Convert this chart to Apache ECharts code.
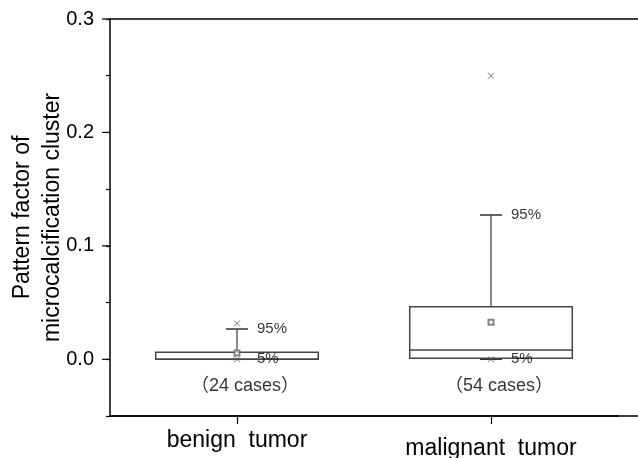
<!DOCTYPE html>
<html>
<head>
<meta charset="utf-8">
<script src="https://cdn.jsdelivr.net/npm/echarts@6/dist/echarts.min.js"></script>
<style>
html,body{margin:0;padding:0;background:#fff;}
#chart{width:638px;height:458px;}
</style>
</head>
<body>
<div id="chart"></div>
<script>
// ---- data ----
const categories = ['benign  tumor', 'malignant  tumor'];
const p5Vals     = [0.0, 0.0];
const q1Vals     = [0.0, 0.001];
const medianVals = [0.0, 0.0082];
const q3Vals     = [0.0062, 0.0464];
const p95Vals    = [0.0267, 0.1272];
const meanVals   = [0.0056, 0.0326];
const minVals    = [0.0, 0.0];
const maxVals    = [0.0317, 0.250];
const caseCounts = [24, 54];
const yMajorTicks = [0, 0.1, 0.2, 0.3];
const yMinorStep = 0.05;
const yMin = -0.05, yMax = 0.3;

const FONT = '"Liberation Sans", Arial, "Noto Sans CJK SC", sans-serif';

const boxData = categories.map((c, i) => [i, p5Vals[i], q1Vals[i], medianVals[i], q3Vals[i], p95Vals[i]]);

function isMajor(v) {
  return yMajorTicks.some(t => Math.abs(t - v) < 1e-9);
}

function renderBox(params, api) {
  const idx = api.value(0);
  const p5 = api.coord([idx, api.value(1)]);
  const q1 = api.coord([idx, api.value(2)]);
  const md = api.coord([idx, api.value(3)]);
  const q3 = api.coord([idx, api.value(4)]);
  const p95 = api.coord([idx, api.value(5)]);
  const cx = q1[0];
  const w = api.size([1, 0])[0] * 0.64;
  const cap = 11;
  const boxStroke = '#444';
  const whiskStroke = '#666';
  return {
    type: 'group',
    children: [
      { type: 'line', shape: { x1: cx, y1: q3[1], x2: cx, y2: p95[1] }, style: { stroke: whiskStroke, lineWidth: 1.5 } },
      { type: 'line', shape: { x1: cx - cap, y1: p95[1], x2: cx + cap, y2: p95[1] }, style: { stroke: '#333', lineWidth: 1.5 } },
      { type: 'line', shape: { x1: cx, y1: q1[1], x2: cx, y2: p5[1] }, style: { stroke: whiskStroke, lineWidth: 1.5 } },
      { type: 'line', shape: { x1: cx - cap, y1: p5[1], x2: cx + cap, y2: p5[1] }, style: { stroke: '#333', lineWidth: 1.5 } },
      { type: 'rect', shape: { x: cx - w / 2, y: q3[1], width: w, height: q1[1] - q3[1] }, style: { fill: '#fff', stroke: boxStroke, lineWidth: 1.5 } },
      { type: 'line', shape: { x1: cx - w / 2, y1: md[1], x2: cx + w / 2, y2: md[1] }, style: { stroke: boxStroke, lineWidth: 1.5 } }
    ]
  };
}

// major (longer) y ticks, placed through the y scale
function renderMajorTick(params, api) {
  const p = api.coord([0, api.value(1)]);
  const x0 = params.coordSys.x;
  return {
    type: 'line',
    shape: { x1: x0 - 8, y1: p[1], x2: x0, y2: p[1] },
    style: { stroke: '#000', lineWidth: 1.2 }
  };
}

const chart = echarts.init(document.getElementById('chart'));
chart.setOption({
  animation: false,
  backgroundColor: '#fff',
  grid: [
    { left: 110, right: 20, top: 19, bottom: 42, containLabel: false, outerBoundsMode: 'none' },
    { left: 110, right: -20, top: 19, bottom: 42, containLabel: false, outerBoundsMode: 'none' }
  ],
  xAxis: [
    {
      type: 'category', gridIndex: 0, data: categories, boundaryGap: true,
      axisLine: { show: true, onZero: false, lineStyle: { color: '#000', width: 1.5 } },
      axisTick: { show: true, alignWithLabel: true, interval: 0, length: 8, lineStyle: { color: '#000', width: 1.2 } },
      axisLabel: {
        interval: 0, hideOverlap: false,
        margin: 13, color: '#000', fontFamily: FONT, fontSize: 23,
        formatter: (v, i) => i === 1 ? '{b|' + v + '}' : '{a|' + v + '}',
        rich: {
          a: { fontSize: 23, fontFamily: FONT, color: '#000' },
          b: { fontSize: 23, fontFamily: FONT, color: '#000', padding: [8, 0, 0, 0] }
        }
      },
      splitLine: { show: false }
    },
    {
      type: 'value', gridIndex: 1, position: 'top', min: 0, max: 1,
      axisLine: { show: true, onZero: false, lineStyle: { color: '#000', width: 1.5 } },
      axisTick: { show: false }, axisLabel: { show: false }, splitLine: { show: false }
    },
    {
      type: 'value', gridIndex: 1, position: 'bottom', min: 0, max: 1,
      axisLine: { show: true, onZero: false, lineStyle: { color: '#000', width: 1.5 } },
      axisTick: { show: false }, axisLabel: { show: false }, splitLine: { show: false }
    }
  ],
  yAxis: [
    {
      type: 'value', gridIndex: 0, min: yMin, max: yMax, interval: yMinorStep, position: 'left',
      name: 'Pattern factor of\nmicrocalcification cluster',
      nameLocation: 'middle', nameRotate: 90, nameGap: 42, nameMoveOverlap: false,
      nameTextStyle: { fontFamily: FONT, fontSize: 23, color: '#000', lineHeight: 30 },
      axisLine: { show: true, onZero: false, lineStyle: { color: '#000', width: 1.5 } },
      axisTick: { show: true, length: 4, lineStyle: { color: '#000', width: 1.2 } },
      axisLabel: {
        show: true, showMinLabel: true, showMaxLabel: true,
        formatter: v => isMajor(v) ? Number(v).toFixed(1) : '',
        fontFamily: FONT, fontSize: 20, color: '#000', margin: 16
      },
      splitLine: { show: false }
    },
    {
      type: 'value', gridIndex: 1, min: 0, max: 1, show: false
    }
  ],
  series: [
    {
      type: 'custom', xAxisIndex: 0, yAxisIndex: 0, clip: false, z: 10, silent: true,
      renderItem: renderMajorTick, data: yMajorTicks.map(v => [0, v])
    },
    {
      type: 'custom', xAxisIndex: 0, yAxisIndex: 0,
      renderItem: renderBox, data: boxData, z: 2
    },
    {
      type: 'scatter', xAxisIndex: 0, yAxisIndex: 0, z: 3,
      symbol: 'emptyRect', symbolSize: 5,
      itemStyle: { color: '#666', borderWidth: 1 },
      data: meanVals.map((v, i) => [i, v])
    },
    {
      type: 'scatter', xAxisIndex: 0, yAxisIndex: 0, z: 4,
      symbol: 'path://M0,0L10,10M10,0L0,10', symbolSize: 6,
      itemStyle: { color: 'transparent', borderColor: '#555', borderWidth: 1 },
      data: maxVals.map((v, i) => [i, v]).concat(minVals.map((v, i) => [i, v]))
    },
    {
      type: 'scatter', xAxisIndex: 0, yAxisIndex: 0, z: 5,
      symbolSize: 0, itemStyle: { color: 'transparent' },
      label: { show: true, position: 'right', distance: 20, formatter: '95%', fontFamily: FONT, fontSize: 15, color: '#000' },
      data: p95Vals.map((v, i) => [i, v])
    },
    {
      type: 'scatter', xAxisIndex: 0, yAxisIndex: 0, z: 5,
      symbolSize: 0, itemStyle: { color: 'transparent' },
      label: { show: true, position: 'right', distance: 20, formatter: '5%', fontFamily: FONT, fontSize: 15, color: '#000' },
      data: p5Vals.map((v, i) => [i, v])
    },
    {
      type: 'scatter', xAxisIndex: 0, yAxisIndex: 0, z: 5,
      symbolSize: 0, itemStyle: { color: 'transparent' },
      label: {
        show: true, position: 'bottom', distance: 18, offset: [8, 0],
        formatter: p => '（' + caseCounts[p.dataIndex] + ' cases）',
        fontFamily: FONT, fontSize: 18, color: '#000'
      },
      data: p5Vals.map((v, i) => [i, v])
    }
  ]
});
</script>
</body>
</html>
